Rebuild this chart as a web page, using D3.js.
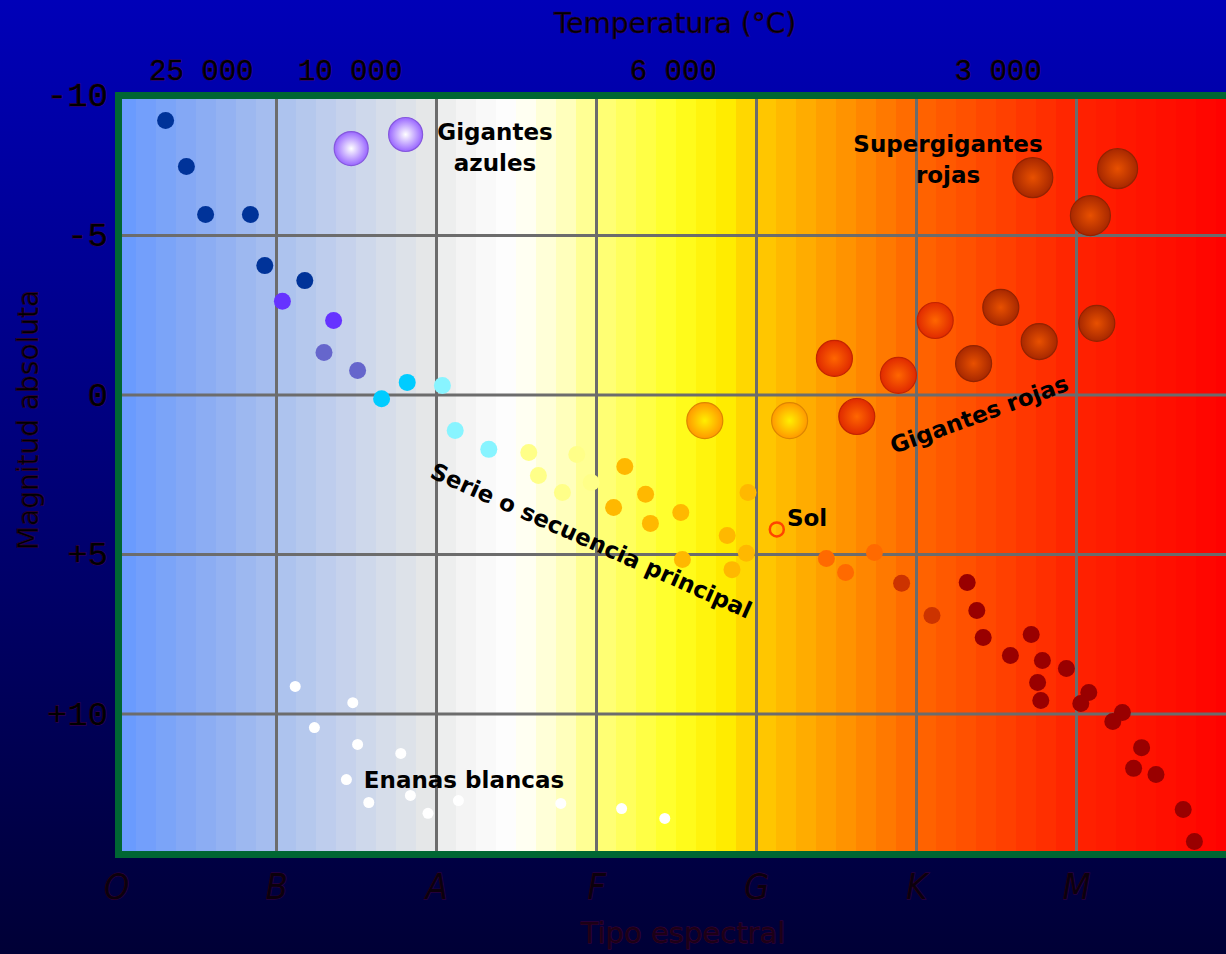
<!DOCTYPE html>
<html>

<head>
  <title>Diagrama H-R</title>
  <script src="https://cdn.jsdelivr.net/npm/d3@7/dist/d3.min.js"></script>
  <style type="text/css">
    body {
      margin: 0;
      background-color: #000040;
    }

    svg {
      display: block;
    }

    .note {
      font-family: 'DejaVu Sans', sans-serif;
      font-weight: bold;
      font-size: 23px;
      fill: #000;
    }
  </style>
</head>

<body>
  <div id="chartArea"></div>
  <script type="text/javascript">
    // ejes
    let spectralTypes = ['O', 'B', 'A', 'F', 'G', 'K', 'M'];
    let magTicks = [-10, -5, 0, 5, 10];
    let magLabels = ['-10', '-5', '0', '+5', '+10'];
    let tempLabels = ['25 000', '10 000', '6 000', '3 000'];
    let tempAt = [0.53, 1.46, 3.48, 5.51];   // posicion en tipo espectral

    // secuencia principal (tipo espectral 0 = O, 1 = B, ...)
    let mainSeqType = [0.31, 0.44, 0.56, 0.84, 0.93, 1.18,
      1.04, 1.36, 1.30, 1.51,
      1.66, 1.82, 2.04, 2.12, 2.33,
      2.58, 2.88, 2.64, 2.79, 2.97,
      3.18, 3.31, 3.11, 3.34, 3.53, 3.82, 3.95, 3.54, 3.85, 3.94,
      4.44, 4.56, 4.74, 4.91, 5.10,
      5.32, 5.38, 5.42, 5.59, 5.72, 5.79, 5.76, 5.78, 5.94, 6.08, 6.03,
      6.29, 6.23, 6.41, 6.36, 6.50, 6.67, 6.74];
    let mainSeqMag = [-8.59, -7.15, -5.64, -5.64, -4.04, -3.57,
      -2.92, -2.32, -1.32, -0.75,
      0.13, -0.38, -0.28, 1.13, 1.72,
      1.82, 1.88, 2.54, 3.07, 2.76,
      2.26, 3.13, 3.54, 4.04, 3.70, 4.42, 3.07, 5.17, 5.49, 4.98,
      5.14, 5.58, 4.95, 5.92, 6.93,
      5.89, 6.77, 7.62, 8.18, 7.52, 8.34, 9.03, 9.59, 8.59, 9.34, 9.69,
      9.97, 10.25, 11.07, 11.72, 11.91, 13.01, 14.01];
    let mainSeqGroup = ['O', 'O', 'O', 'O', 'O', 'O',
      'B1', 'B1', 'B2', 'B2',
      'A1', 'A1', 'A2', 'A2', 'A2',
      'F', 'F', 'F', 'F', 'F',
      'G', 'G', 'G', 'G', 'G', 'G', 'G', 'G', 'G', 'G',
      'K1', 'K1', 'K1', 'K2', 'K2',
      'M', 'M', 'M', 'M', 'M', 'M', 'M', 'M', 'M', 'M', 'M',
      'M', 'M', 'M', 'M', 'M', 'M', 'M'];

    // gigantes y supergigantes
    let giantType = [1.47, 1.81, 3.68, 4.21, 4.49, 4.63, 4.89, 5.12, 5.53, 5.36, 5.77, 6.13, 5.73, 6.26, 6.09];
    let giantMag = [-7.71, -8.15, 0.82, 0.82, -1.13, 0.69, -0.60, -2.32, -2.73, -0.97, -1.66, -2.23, -6.80, -7.08, -5.61];
    let giantGroup = ['azul', 'azul', 'amarilla', 'amarilla', 'roja', 'roja', 'roja', 'roja',
      'oscura', 'oscura', 'oscura', 'oscura', 'super', 'super', 'super'];

    // enanas blancas
    let dwarfType = [1.12, 1.48, 1.24, 1.51, 1.78, 1.44, 1.58, 1.84, 1.95, 2.14, 2.78, 3.16, 3.43];
    let dwarfMag = [9.15, 9.66, 10.44, 10.97, 11.25, 12.07, 12.79, 12.57, 13.13, 12.73, 12.82, 12.98, 13.29];

    let sunType = 4.13;
    let sunMag = 4.23;

    // colores
    let dotColor = {
      O: '#003399', B1: '#6633ff', B2: '#6666cc', A1: '#00ccff', A2: '#88f4ff',
      F: '#ffff88', G: '#ffb800', K1: '#ff6a00', K2: '#cc3300', M: '#990000'
    };
    let sphere = {
      azul: ['#ffffff', '#9966ff', 17],
      amarilla: ['#ffee00', '#ff9900', 18],
      roja: ['#ff6600', '#e02a00', 18],
      oscura: ['#e85000', '#a82800', 18],
      super: ['#e85000', '#a82800', 20]
    };
    let bgStops = [0, 0.5, 1, 1.5, 1.95, 2.2, 2.5, 2.8, 3, 3.5, 3.8, 4, 4.5, 5, 5.5, 6, 7];
    let bgColors = ['#6699ff', '#88aaf4', '#a9c0ee', '#cad5ec', '#e6e8e8', '#f5f5f5', '#ffffff', '#ffffc0',
      '#ffff80', '#ffff22', '#ffee00', '#ffcc00', '#ff9900', '#ff6600', '#ff4400', '#ff2200', '#ff0000'];

    let W = 1226, H = 954;
    let plotTop = 95, plotBottom = 855;

    let x = d3.scaleLinear().domain([0, 6]).range([116, 1076]);
    let y = d3.scaleLinear().domain([-5, 10]).range([235, 713.5]);
    y.domain([y.invert(plotTop), y.invert(plotBottom)]).range([plotTop, plotBottom]).clamp(true);

    let svg = d3.select('#chartArea').append('svg')
      .attr('width', W)
      .attr('height', H);

    let defs = svg.append('defs');
    let page = defs.append('linearGradient').attr('id', 'page')
      .attr('x1', 0).attr('y1', 0).attr('x2', 0).attr('y2', 1);
    page.append('stop').attr('offset', '0%').attr('stop-color', '#0000b8');
    page.append('stop').attr('offset', '100%').attr('stop-color', '#000036');

    Object.keys(sphere).forEach(k => {
      let g = defs.append('radialGradient').attr('id', 'sph-' + k);
      g.append('stop').attr('offset', '0%').attr('stop-color', sphere[k][0]);
      g.append('stop').attr('offset', '100%').attr('stop-color', sphere[k][1]);
    });

    svg.append('rect')
      .attr('width', W)
      .attr('height', H)
      .attr('fill', 'url(#page)');

    // fondo del diagrama en bandas
    let bgScale = d3.scaleLinear().domain(bgStops).range(bgColors);
    let bandW = 20;
    let bands = d3.range(x(0), W, bandW);
    svg.append('g').selectAll('rect')
      .data(bands)
      .enter()
      .append('rect')
      .attr('x', d => d)
      .attr('y', plotTop)
      .attr('width', bandW + 0.5)
      .attr('height', plotBottom - plotTop)
      .attr('fill', d => bgScale(x.invert(d + bandW / 2)));

    // rejilla
    let gridX = svg.append('g')
      .attr('transform', `translate(0, ${plotBottom})`)
      .call(d3.axisBottom(x).tickValues(d3.range(1, 7)).tickSize(-(plotBottom - plotTop)).tickFormat(''));
    let gridY = svg.append('g')
      .attr('transform', `translate(${x(0)}, 0)`)
      .call(d3.axisLeft(y).tickValues([-5, 0, 5, 10]).tickSize(-(W - x(0))).tickFormat(''));
    [gridX, gridY].forEach(g => {
      g.select('.domain').remove();
      g.selectAll('line').attr('stroke', '#6c6c6c').attr('stroke-width', 3);
    });

    // marco
    svg.append('rect')
      .attr('x', x(0) + 2.5)
      .attr('y', plotTop + 0.5)
      .attr('width', W)
      .attr('height', plotBottom - plotTop - 1)
      .attr('fill', 'none')
      .attr('stroke', '#006633')
      .attr('stroke-width', 7);

    // secuencia principal
    svg.append('g').selectAll('circle')
      .data(mainSeqType)
      .enter()
      .append('circle')
      .attr('cx', d => x(d))
      .attr('cy', (d, i) => y(mainSeqMag[i]))
      .attr('r', 8.5)
      .attr('fill', (d, i) => dotColor[mainSeqGroup[i]]);

    // enanas blancas
    svg.append('g').selectAll('circle')
      .data(dwarfType)
      .enter()
      .append('circle')
      .attr('cx', d => x(d))
      .attr('cy', (d, i) => y(dwarfMag[i]))
      .attr('r', 5.5)
      .attr('fill', '#ffffff');

    // gigantes
    svg.append('g').selectAll('circle')
      .data(giantType)
      .enter()
      .append('circle')
      .attr('cx', d => x(d))
      .attr('cy', (d, i) => y(giantMag[i]))
      .attr('r', (d, i) => sphere[giantGroup[i]][2])
      .attr('fill', (d, i) => `url(#sph-${giantGroup[i]})`)
      .attr('stroke', (d, i) => d3.color(sphere[giantGroup[i]][1]).darker(0.4))
      .attr('stroke-width', 1.2);

    // Sol
    svg.append('circle')
      .attr('cx', x(sunType))
      .attr('cy', y(sunMag))
      .attr('r', 7)
      .attr('fill', 'none')
      .attr('stroke', '#ff4400')
      .attr('stroke-width', 2.5);

    // ejes
    let axisFont = (g, family, size, fill, stroke) => {
      g.select('.domain').remove();
      g.selectAll('text')
        .attr('font-family', family)
        .attr('font-size', size)
        .attr('fill', fill)
        .attr('stroke', stroke)
        .attr('stroke-width', 0.8)
        .attr('paint-order', 'stroke');
    };

    let yAxis = svg.append('g')
      .attr('transform', `translate(${x(0) - 8}, 0)`)
      .call(d3.axisLeft(y).tickValues(magTicks).tickSize(0).tickPadding(0)
        .tickFormat((d, i) => magLabels[i]));
    axisFont(yAxis, "'Liberation Mono', monospace", 34, '#000', '#440044');

    let tAxis = svg.append('g')
      .attr('transform', `translate(0, ${plotTop})`)
      .call(d3.axisTop(x).tickValues(tempAt).tickSize(0).tickPadding(15)
        .tickFormat((d, i) => tempLabels[i]));
    axisFont(tAxis, "'Liberation Mono', monospace", 29, '#000', '#440044');

    let sAxis = svg.append('g')
      .attr('transform', `translate(0, ${plotBottom})`)
      .call(d3.axisBottom(x).tickValues(d3.range(7)).tickSize(0).tickPadding(18)
        .tickFormat((d, i) => spectralTypes[i]));
    axisFont(sAxis, "'DejaVu Sans Condensed', 'DejaVu Sans', sans-serif", 36, '#0c000c', '#3c003c');
    sAxis.selectAll('text').attr('font-style', 'italic');

    // titulos
    svg.append('text')
      .attr('x', 675)
      .attr('y', 33)
      .attr('text-anchor', 'middle')
      .attr('font-family', "'DejaVu Sans', sans-serif")
      .attr('font-size', 28)
      .attr('fill', '#000')
      .attr('stroke', '#330033')
      .attr('stroke-width', 0.6)
      .text('Temperatura (°C)');

    svg.append('text')
      .attr('x', 683)
      .attr('y', 943)
      .attr('text-anchor', 'middle')
      .attr('font-family', "'DejaVu Sans', sans-serif")
      .attr('font-size', 29)
      .attr('fill', '#1c0016')
      .attr('stroke', '#420034')
      .attr('stroke-width', 0.8)
      .attr('paint-order', 'stroke')
      .text('Tipo espectral');

    svg.append('text')
      .attr('transform', 'translate(38, 420) rotate(-90)')
      .attr('text-anchor', 'middle')
      .attr('font-family', "'DejaVu Sans', sans-serif")
      .attr('font-size', 28)
      .attr('fill', '#000')
      .attr('stroke', '#330033')
      .attr('stroke-width', 0.6)
      .text('Magnitud absoluta');

    // rotulos
    let note = (tx, ty, lines, angle) => {
      let t = svg.append('text')
        .attr('class', 'note')
        .attr('text-anchor', 'middle')
        .attr('transform', `translate(${tx}, ${ty}) rotate(${angle || 0})`);
      lines.forEach((l, i) => {
        t.append('tspan').attr('x', 0).attr('dy', i ? '1.35em' : 0).text(l);
      });
    };
    note(495, 140, ['Gigantes', 'azules']);
    note(948, 152, ['Supergigantes', 'rojas']);
    note(982, 422, ['Gigantes rojas'], -20);
    note(588, 548, ['Serie o secuencia principal'], 24);
    note(807, 526, ['Sol']);
    note(464, 788, ['Enanas blancas']);
  </script>
</body>

</html>
